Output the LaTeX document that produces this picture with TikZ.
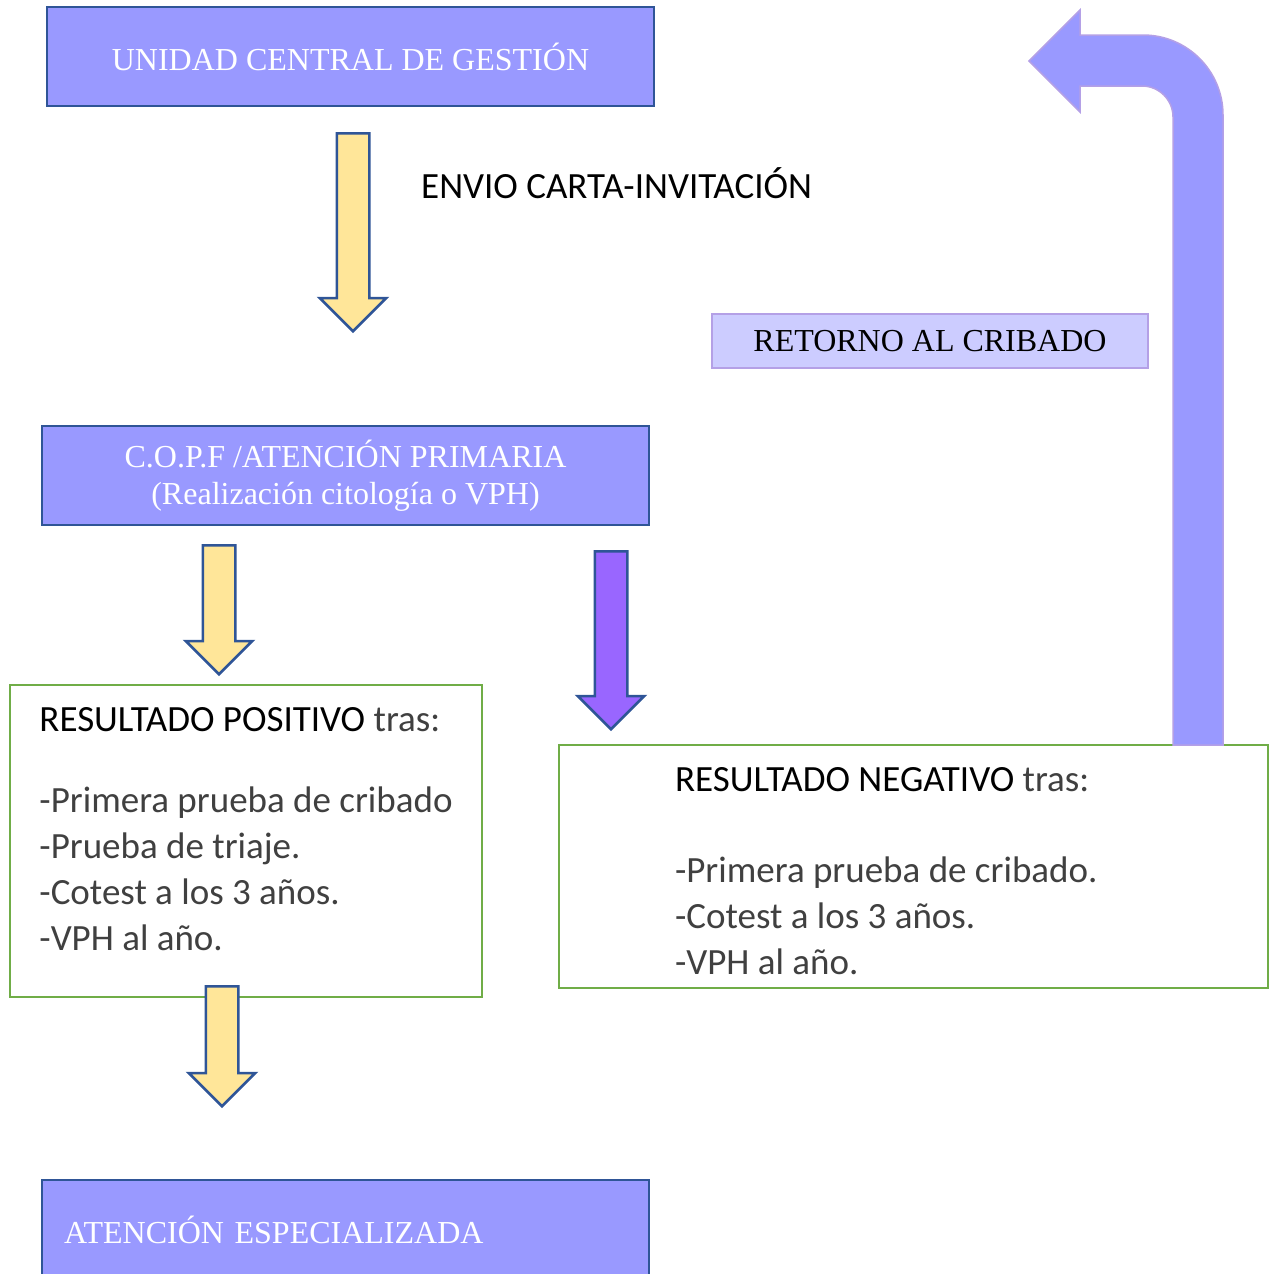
\documentclass[tikz,border=0pt]{standalone}
\usepackage{fontspec}
\setmainfont{Liberation Serif}
\newfontfamily\calibri{Carlito}
\usetikzlibrary{shapes.arrows}

\definecolor{boxfill}{RGB}{153,153,255}
\definecolor{boxblue}{RGB}{47,85,151}
\definecolor{arrowyellow}{RGB}{255,230,153}
\definecolor{arrowpurple}{RGB}{153,102,255}
\definecolor{resgreen}{RGB}{112,173,71}
\definecolor{retfill}{RGB}{204,204,255}
\definecolor{retline}{RGB}{180,160,230}
\definecolor{restext}{RGB}{64,64,64}

\begin{document}
\begin{tikzpicture}[
    x=1pt, y=-1pt,
    mainbox/.style={rectangle, draw=boxblue, line width=2.5pt, fill=boxfill,
                    minimum width=607pt, minimum height=99pt, align=center,
                    text=white, font=\fontsize{32}{37}\selectfont},
    resbox/.style={rectangle, draw=resgreen, line width=2pt, fill=white,
                   inner sep=0pt, align=left, text=restext,
                   font=\calibri\fontsize{37}{46}\selectfont},
    retbox/.style={rectangle, draw=retline, line width=1.5pt, fill=retfill,
                   minimum width=436pt, minimum height=54pt,
                   font=\fontsize{32}{37}\selectfont},
    downarrow/.style={single arrow, shape border rotate=270, draw=boxblue,
                      line width=2.5pt, fill=arrowyellow, inner sep=15pt,
                      single arrow head extend=17pt, anchor=tail},
    bigarrow/.style={fill=boxfill, draw=retline, line width=1.5pt},
]
\useasboundingbox (0,0) rectangle (1269,1274);

% Central unit and invitation letter
\node[mainbox] (ucg) at (350.5,56.5) {UNIDAD CENTRAL DE GESTIÓN};
\node[downarrow, minimum height=198pt] (carta) at (353,132) {};
\node[anchor=west, inner sep=0pt, font=\calibri\fontsize{37}{44}\selectfont]
    (envio) at (421,183) {ENVIO CARTA-INVITACIÓN};

% Return label
\node[retbox] (retorno) at (930,341) {RETORNO AL CRIBADO};

% Primary care
\node[mainbox] (copf) at (345.5,475.5) {C.O.P.F /ATENCIÓN PRIMARIA\\(Realización citología o VPH)};
\node[downarrow, minimum height=129pt] (apos) at (219,544) {};
\node[downarrow, fill=arrowpurple, minimum height=178pt] (aneg) at (611,550) {};

% Results
\node[resbox, minimum width=472pt, minimum height=312pt] (pos) at (246,841)
    {\textcolor{black}{RESULTADO POSITIVO} tras:\\[35pt]
     -Primera prueba de cribado\\
     -Prueba de triaje.\\
     -Cotest a los 3 años.\\
     -VPH al año.\rule[-25pt]{0pt}{25pt}};
\node[resbox, minimum width=709pt, minimum height=243pt, text width=477pt,
      align=flush left] (neg) at (913.5,866.5)
    {\rule{0pt}{34pt}\textcolor{black}{RESULTADO NEGATIVO} tras:\\[45pt]
     -Primera prueba de cribado.\\
     -Cotest a los 3 años.\\
     -VPH al año.};

% Back to screening
\draw[bigarrow] (1173,745) -- (1173,117)
    .. controls (1173,99.9) and (1159.1,86) .. (1142,86) -- (1080,86)
    -- (1080,112) -- (1029,61) -- (1080,10) -- (1080,35) -- (1143,35)
    .. controls (1187.2,35) and (1223,70.8) .. (1223,115) -- (1223,745) -- cycle;

% Specialised care
\node[downarrow, minimum height=120pt] (aesp) at (222,985) {};
\node[mainbox, minimum height=100pt, text width=563pt, align=left] (esp) at (345.5,1230)
    {ATENCIÓN ESPECIALIZADA};

\end{tikzpicture}
\end{document}
